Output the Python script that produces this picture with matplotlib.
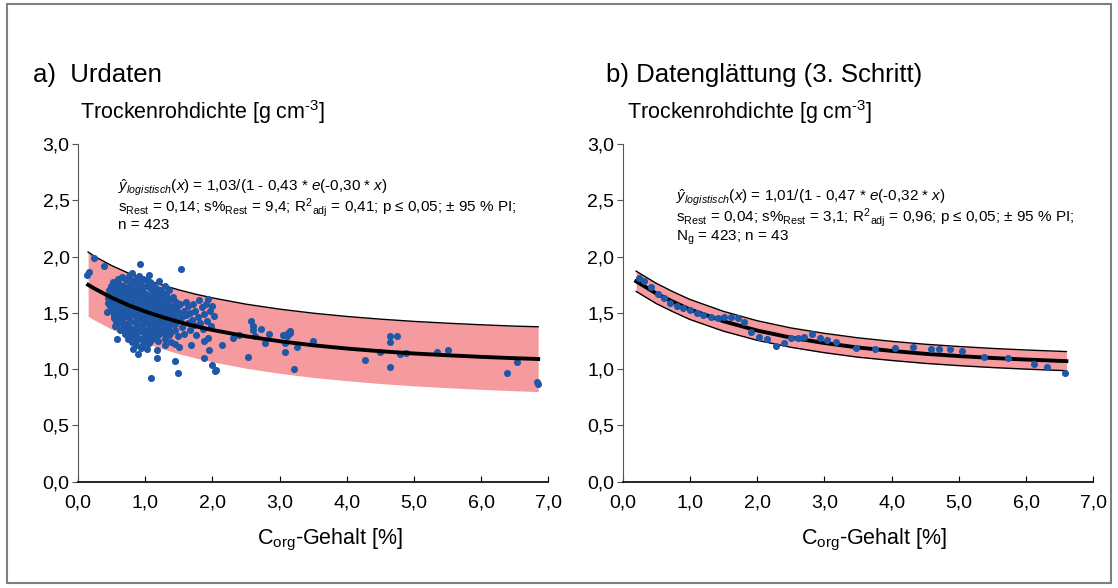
import numpy as np
import matplotlib
matplotlib.use("Agg")
import matplotlib.pyplot as plt
from matplotlib.patches import Rectangle

plt.rcParams['font.family'] = ['Liberation Sans', 'DejaVu Sans']
plt.rcParams['mathtext.fontset'] = 'custom'
plt.rcParams['mathtext.rm'] = 'Liberation Sans'
plt.rcParams['mathtext.it'] = 'Liberation Sans:italic'

# ---- data ----
# a) raw data (C_org %, dry bulk density)
a_points = [
    # sparse / outer points
    (0.14, 1.84), (0.17, 1.86), (0.24, 1.99), (0.38, 1.92), (0.43, 1.51), (0.54, 1.45),
    (0.55, 1.38), (0.58, 1.27), (0.66, 1.36), (0.76, 1.32), (0.82, 1.18), (0.87, 1.25),
    (0.90, 1.13), (0.92, 1.93), (1.08, 0.92), (1.18, 1.17), (1.18, 1.10), (1.30, 1.21),
    (1.45, 1.07), (1.50, 1.20), (1.49, 0.97), (1.53, 1.89), (1.68, 1.21), (1.88, 1.10),
    (1.95, 1.17), (2.00, 1.04), (2.04, 0.98), (2.06, 0.99), (2.14, 1.21), (2.30, 1.28),
    (2.40, 1.30), (2.53, 1.11), (2.57, 1.43), (2.60, 1.38), (2.61, 1.35), (2.63, 1.29),
    (2.73, 1.36), (2.79, 1.23), (2.85, 1.31), (3.05, 1.30), (3.08, 1.23), (3.08, 1.15),
    (3.11, 1.29), (3.12, 1.32), (3.15, 1.34), (3.16, 1.32), (3.22, 1.00), (3.26, 1.20),
    (3.50, 1.25), (4.27, 1.08), (4.49, 1.15), (4.65, 1.29), (4.65, 1.24), (4.65, 1.02),
    (4.75, 1.29), (4.79, 1.13), (4.88, 1.14), (5.35, 1.15), (5.50, 1.17), (6.38, 0.97),
    (6.54, 1.06), (6.83, 0.89), (6.84, 0.87),
    # dense cluster
    (0.44, 1.63), (0.46, 1.70), (0.47, 1.56), (0.49, 1.74), (0.48, 1.66), (0.50, 1.60),
    (0.51, 1.52), (0.45, 1.59),
    (0.52, 1.77), (0.53, 1.69), (0.54, 1.64), (0.55, 1.58), (0.53, 1.48), (0.56, 1.73),
    (0.57, 1.61), (0.58, 1.54), (0.56, 1.43), (0.59, 1.80), (0.58, 1.67), (0.60, 1.49),
    (0.57, 1.39),
    (0.61, 1.76), (0.62, 1.71), (0.63, 1.65), (0.62, 1.57), (0.64, 1.52), (0.61, 1.45),
    (0.65, 1.41), (0.63, 1.35), (0.66, 1.82), (0.67, 1.74), (0.66, 1.62), (0.68, 1.56),
    (0.67, 1.47), (0.69, 1.68), (0.68, 1.38), (0.70, 1.31), (0.69, 1.50), (0.64, 1.60),
    (0.66, 1.44),
    (0.71, 1.79), (0.72, 1.72), (0.71, 1.64), (0.73, 1.58), (0.72, 1.53), (0.74, 1.46),
    (0.73, 1.40), (0.75, 1.34), (0.74, 1.27), (0.76, 1.83), (0.77, 1.75), (0.76, 1.69),
    (0.78, 1.62), (0.77, 1.55), (0.79, 1.49), (0.78, 1.43), (0.76, 1.37), (0.79, 1.30),
    (0.80, 1.24), (0.75, 1.59), (0.78, 1.66), (0.73, 1.51),
    (0.81, 1.85), (0.82, 1.78), (0.81, 1.71), (0.83, 1.65), (0.82, 1.59), (0.84, 1.54),
    (0.83, 1.48), (0.85, 1.42), (0.84, 1.36), (0.86, 1.31), (0.85, 1.26), (0.87, 1.21),
    (0.86, 1.80), (0.88, 1.74), (0.87, 1.68), (0.89, 1.61), (0.88, 1.56), (0.90, 1.50),
    (0.89, 1.45), (0.88, 1.39), (0.90, 1.34), (0.86, 1.52), (0.84, 1.63), (0.89, 1.28),
    (0.91, 1.83), (0.92, 1.77), (0.91, 1.70), (0.93, 1.66), (0.92, 1.60), (0.94, 1.55),
    (0.93, 1.49), (0.95, 1.44), (0.94, 1.38), (0.96, 1.33), (0.95, 1.27), (0.97, 1.22),
    (0.96, 1.80), (0.98, 1.73), (0.97, 1.64), (0.99, 1.58), (0.98, 1.52), (1.00, 1.47),
    (0.99, 1.41), (0.97, 1.36), (1.00, 1.30), (0.93, 1.19), (0.95, 1.69), (0.99, 1.25),
    (1.01, 1.79), (1.02, 1.74), (1.01, 1.67), (1.03, 1.62), (1.02, 1.56), (1.04, 1.51),
    (1.03, 1.45), (1.05, 1.40), (1.04, 1.35), (1.06, 1.29), (1.05, 1.23), (1.07, 1.77),
    (1.08, 1.71), (1.07, 1.65), (1.09, 1.59), (1.08, 1.53), (1.10, 1.48), (1.09, 1.42),
    (1.08, 1.37), (1.10, 1.32), (1.03, 1.18), (1.06, 1.84), (1.09, 1.26),
    (1.11, 1.75), (1.12, 1.69), (1.11, 1.63), (1.13, 1.57), (1.12, 1.51), (1.14, 1.46),
    (1.13, 1.40), (1.15, 1.34), (1.14, 1.28), (1.16, 1.72), (1.17, 1.66), (1.16, 1.60),
    (1.18, 1.54), (1.17, 1.49), (1.19, 1.43), (1.18, 1.37), (1.20, 1.31), (1.19, 1.25),
    (1.21, 1.78), (1.22, 1.70), (1.21, 1.64), (1.23, 1.58), (1.22, 1.52), (1.24, 1.47),
    (1.23, 1.41), (1.25, 1.35), (1.26, 1.68), (1.27, 1.61), (1.26, 1.55), (1.28, 1.49),
    (1.27, 1.44), (1.29, 1.38), (1.28, 1.32), (1.30, 1.74), (1.29, 1.27),
    (1.31, 1.66), (1.32, 1.59), (1.33, 1.53), (1.32, 1.47), (1.34, 1.42), (1.33, 1.36),
    (1.35, 1.30), (1.36, 1.70), (1.37, 1.62), (1.36, 1.50), (1.38, 1.44), (1.37, 1.39),
    (1.39, 1.33), (1.40, 1.56), (1.38, 1.24),
    (1.41, 1.64), (1.42, 1.52), (1.43, 1.46), (1.44, 1.40), (1.45, 1.35), (1.46, 1.60),
    (1.47, 1.55), (1.48, 1.43), (1.49, 1.29), (1.44, 1.22), (1.50, 1.50),
    (1.52, 1.58), (1.54, 1.45), (1.55, 1.37), (1.57, 1.52), (1.58, 1.31), (1.60, 1.60),
    (1.61, 1.48), (1.63, 1.41), (1.64, 1.56), (1.66, 1.35), (1.67, 1.50), (1.69, 1.44),
    (1.71, 1.58), (1.72, 1.39), (1.74, 1.52), (1.76, 1.30), (1.78, 1.46), (1.80, 1.61),
    (1.82, 1.41), (1.84, 1.55), (1.86, 1.36), (1.88, 1.49), (1.90, 1.58), (1.92, 1.43),
    (1.94, 1.62), (1.96, 1.52), (1.98, 1.38), (2.00, 1.56), (1.93, 1.28), (2.02, 1.47),
    (1.87, 1.25),
]

# a) logistic fit and 95 % prediction interval
a_fit_x = [0.15, 0.25, 0.5, 0.75, 1.0, 1.25, 1.5, 1.75, 2.0, 2.5, 3.0, 3.5, 4.0, 4.5,
           5.0, 5.5, 6.0, 6.5, 6.85]
a_fit_y = [1.749, 1.714, 1.635, 1.568, 1.512, 1.463, 1.419, 1.381, 1.348, 1.292, 1.248,
           1.212, 1.183, 1.159, 1.139, 1.123, 1.109, 1.097, 1.090]
a_pi_hi = [2.04, 2.00, 1.92, 1.853, 1.797, 1.748, 1.704, 1.666, 1.633, 1.577, 1.533,
           1.497, 1.468, 1.444, 1.424, 1.408, 1.394, 1.382, 1.376]
a_pi_lo = [1.47, 1.434, 1.355, 1.288, 1.231, 1.182, 1.137, 1.099, 1.065, 1.008, 0.963,
           0.926, 0.897, 0.872, 0.851, 0.835, 0.820, 0.808, 0.800]

# b) smoothed data (43 group means)
b_x = [0.24, 0.32, 0.42, 0.52, 0.61, 0.70, 0.80, 0.90, 1.00, 1.10, 1.20, 1.31, 1.41,
       1.51, 1.61, 1.71, 1.81, 1.91, 2.03, 2.15, 2.28, 2.40, 2.51, 2.61, 2.70, 2.81,
       2.93, 3.04, 3.18, 3.47, 3.75, 4.05, 4.32, 4.58, 4.70, 4.87, 5.04, 5.38, 5.73,
       6.12, 6.31, 6.58]
b_y = [1.81, 1.78, 1.73, 1.67, 1.63, 1.59, 1.56, 1.54, 1.525, 1.50, 1.48, 1.46, 1.457,
       1.46, 1.46, 1.45, 1.415, 1.327, 1.288, 1.267, 1.205, 1.229, 1.273, 1.273, 1.282,
       1.309, 1.273, 1.258, 1.243, 1.185, 1.176, 1.19, 1.199, 1.176, 1.18, 1.18, 1.161,
       1.105, 1.10, 1.045, 1.021, 0.968]

b_fit_x = [0.2, 0.5, 0.75, 1.0, 1.5, 2.0, 2.5, 3.0, 3.5, 4.0, 4.5, 5.0, 5.5, 6.0, 6.6]
b_fit_y = [1.78, 1.672, 1.598, 1.530, 1.425, 1.343, 1.280, 1.232, 1.192, 1.162, 1.136,
           1.116, 1.099, 1.085, 1.071]
b_pi_hi = [1.87, 1.762, 1.687, 1.619, 1.513, 1.430, 1.366, 1.318, 1.278, 1.247, 1.221,
           1.201, 1.184, 1.170, 1.156]
b_pi_lo = [1.69, 1.582, 1.509, 1.441, 1.337, 1.256, 1.194, 1.146, 1.106, 1.077, 1.051,
           1.031, 1.014, 1.000, 0.986]

x_ticks = [0, 1, 2, 3, 4, 5, 6, 7]
x_ticklabels = ['0,0', '1,0', '2,0', '3,0', '4,0', '5,0', '6,0', '7,0']
y_ticks = [0, 0.5, 1.0, 1.5, 2.0, 2.5, 3.0]
y_ticklabels = ['0,0', '0,5', '1,0', '1,5', '2,0', '2,5', '3,0']

titles = ['a)  Urdaten', 'b) Datenglättung (3. Schritt)']
ylab = 'Trockenrohdichte [g cm$^{\\text{-3}}$]'
xlab = 'C$_{\\mathrm{org}}$-Gehalt [%]'
ann_a = ('$\\mathit{\\hat{y}_{logistisch}(x)}$ = 1,03/(1 - 0,43 * $\\mathit{e}$(-0,30 * $\\mathit{x}$)\n'
         's$_{\\mathrm{Rest}}$ = 0,14; s%$_{\\mathrm{Rest}}$ = 9,4; R$^{\\mathrm{2}}$$_{\\mathrm{adj}}$ = 0,41; '
         'p ≤ 0,05; ± 95 % PI;\n'
         'n = 423')
ann_b = ('$\\mathit{\\hat{y}_{logistisch}(x)}$ = 1,01/(1 - 0,47 * $\\mathit{e}$(-0,32 * $\\mathit{x}$)\n'
         's$_{\\mathrm{Rest}}$ = 0,04; s%$_{\\mathrm{Rest}}$ = 3,1; R$^{\\mathrm{2}}$$_{\\mathrm{adj}}$ = 0,96; '
         'p ≤ 0,05; ± 95 % PI;\n'
         'N$_{\\mathrm{g}}$ = 423; n = 43')

band_col = '#f59ba0'
dot_col = '#1e58a6'

fig = plt.figure(figsize=(11.18, 5.88), dpi=100)
fig.patches.append(Rectangle((0.0065, 0.008), 0.987, 0.985, transform=fig.transFigure,
                             fill=False, edgecolor='#7f7f7f', linewidth=1.5))

ax_a = fig.add_axes([0.0698, 0.1808, 0.4206, 0.5743])
ax_b = fig.add_axes([0.5570, 0.1808, 0.4209, 0.5743])

# panel a
ax_a.fill_between(a_fit_x, a_pi_lo, a_pi_hi, color=band_col, lw=0, zorder=1)
ax_a.plot(a_fit_x, a_pi_hi, color='black', lw=1.0, zorder=2)
ax_a.scatter([p[0] for p in a_points], [p[1] for p in a_points], s=26, color=dot_col,
             lw=0, zorder=3)
ax_a.plot(a_fit_x, a_fit_y, color='black', lw=2.8, zorder=4)
ax_a.text(0.6, 2.70, ann_a, fontsize=11, va='top', ha='left', linespacing=0.9)

# panel b
ax_b.fill_between(b_fit_x, b_pi_lo, b_pi_hi, color=band_col, lw=0, zorder=1)
ax_b.plot(b_fit_x, b_pi_hi, color='black', lw=1.0, zorder=2)
ax_b.plot(b_fit_x, b_pi_lo, color='black', lw=1.0, zorder=2)
ax_b.plot(b_fit_x, b_fit_y, color='black', lw=2.8, zorder=3)
ax_b.scatter(b_x, b_y, s=26, color=dot_col, lw=0, zorder=4)
ax_b.text(0.79, 2.61, ann_b, fontsize=11, va='top', ha='left', linespacing=0.9)

for ax, title, tx, lx in [(ax_a, titles[0], -0.096, 0.004), (ax_b, titles[1], -0.035, 0.009)]:
    ax.set_xlim(0, 7)
    ax.set_ylim(0, 3)
    ax.spines['top'].set_visible(False)
    ax.spines['right'].set_visible(False)
    ax.spines['left'].set_color('#555555')
    ax.spines['bottom'].set_linewidth(1.2)
    ax.set_xticks(x_ticks)
    ax.set_xticklabels(x_ticklabels)
    ax.set_yticks(y_ticks)
    ax.set_yticklabels(y_ticklabels)
    ax.tick_params(axis='x', direction='in', length=4, pad=9, labelsize=14)
    ax.tick_params(axis='y', direction='out', length=4, pad=2, labelsize=14, color='#555555')
    ax.text(tx, 1.205, title, transform=ax.transAxes, fontsize=18.5, ha='left', va='center')
    ax.text(lx, 1.095, ylab, transform=ax.transAxes, fontsize=15.5, ha='left', va='center')
    ax.text(0.535, -0.173, xlab, transform=ax.transAxes, fontsize=15.5, ha='center', va='center')

fig.savefig('out.png', dpi=100)
